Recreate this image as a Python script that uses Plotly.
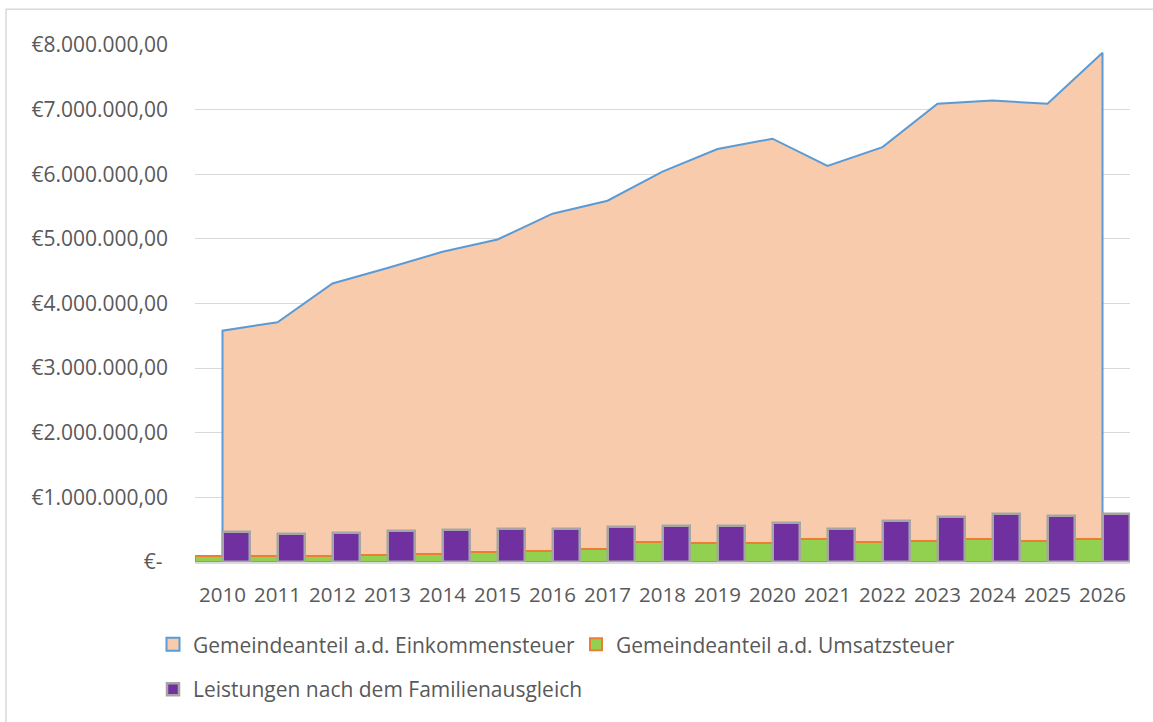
import plotly.graph_objects as go

years = [str(y) for y in range(2010, 2027)]
einkommensteuer = [3580000, 3710000, 4310000, 4550000, 4800000, 4990000, 5390000, 5590000,
                   6040000, 6390000, 6550000, 6130000, 6420000, 7090000, 7140000, 7090000, 7880000]
umsatzsteuer = [90000, 90000, 100000, 110000, 120000, 150000, 170000, 205000,
                310000, 300000, 300000, 350000, 310000, 330000, 350000, 330000, 355000]
familienausgleich = [470000, 430000, 450000, 480000, 490000, 510000, 515000, 540000,
                     560000, 560000, 610000, 505000, 640000, 700000, 750000, 715000, 745000]
tick_vals = [0, 1000000, 2000000, 3000000, 4000000, 5000000, 6000000, 7000000, 8000000]
tick_text = ["€- ", "€1.000.000,00", "€2.000.000,00", "€3.000.000,00", "€4.000.000,00",
             "€5.000.000,00", "€6.000.000,00", "€7.000.000,00", "€8.000.000,00"]
names = ["Gemeindeanteil a.d. Einkommensteuer", "Gemeindeanteil a.d. Umsatzsteuer",
         "Leistungen nach dem Familienausgleich"]

PEACH, BLUE = "#F8CBAD", "#5B9BD5"
GREEN, ORANGE = "#92D050", "#ED7D31"
PURPLE, GREY = "#7030A0", "#A5A5A5"
FONT = "Open Sans"
TXT = "#595959"

W, H = 1153, 722
OFF = 0  # body margin removed via post_script
PL, PR, PT, PB = 195, 1130, 45, 564
ML = PL - OFF
MT = PT - OFF
MR = (W + OFF) - PR
MB = (H + OFF) - PB
PW, PH = PR - PL, PB - PT

fig = go.Figure()

fig.add_trace(go.Scatter(
    x=[years[0]] + years + [years[-1]],
    y=[0] + einkommensteuer + [0],
    mode="lines", fill="toself", fillcolor=PEACH,
    line=dict(color=BLUE, width=2), showlegend=False, hoverinfo="skip",
    xaxis="x", yaxis="y"))

fig.add_trace(go.Scatter(
    x=[None], y=[None], mode="markers", name=names[0],
    marker=dict(symbol="square", size=13, color=PEACH, line=dict(color=BLUE, width=2)),
    legend="legend", legendrank=1, xaxis="x", yaxis="y"))

fig.add_trace(go.Bar(
    x=years, y=umsatzsteuer, name=names[1],
    marker=dict(color=GREEN, line=dict(color=ORANGE, width=2)),
    legend="legend", legendrank=2, xaxis="x2", yaxis="y2"))

fig.add_trace(go.Bar(
    x=years, y=familienausgleich, name=names[2],
    marker=dict(color=PURPLE, line=dict(color=GREY, width=2.5)),
    legend="legend2", legendrank=3, xaxis="x2", yaxis="y2"))

xr = [-0.5, len(years) - 0.5]
yr = [0, 8000000]

def px_x(p):
    return (p - PL) / PW

def px_y(p):
    return (PB - p) / PH

fig.update_layout(
    width=W, height=H,
    margin=dict(l=ML, r=MR, t=MT, b=MB),
    paper_bgcolor="white", plot_bgcolor="white",
    font=dict(family=FONT, size=21, color=TXT),
    barmode="group", bargap=0, bargroupgap=0,
    xaxis=dict(type="category", range=xr, showgrid=False, showline=True,
               linecolor="#D9D9D9", linewidth=1.5, ticks="", zeroline=False,
               tickfont=dict(size=20.5, color=TXT), ticklabelstandoff=14),
    yaxis=dict(range=yr, tickvals=tick_vals, ticktext=tick_text, showgrid=True,
               gridcolor="#D9D9D9", gridwidth=1.3, zeroline=False, showline=False,
               ticks="", tickfont=dict(size=21, color=TXT), ticklabelstandoff=26),
    xaxis2=dict(type="category", range=xr, overlaying="x", visible=False),
    yaxis2=dict(range=yr, overlaying="y", visible=False),
    legend=dict(orientation="h", x=px_x(153), xanchor="left", y=px_y(647), yanchor="middle",
                font=dict(size=21, color=TXT), entrywidth=378, entrywidthmode="pixels",
                bgcolor="rgba(0,0,0,0)", itemclick=False),
    legend2=dict(orientation="h", x=px_x(153), xanchor="left", y=px_y(692), yanchor="middle",
                 font=dict(size=21, color=TXT), bgcolor="rgba(0,0,0,0)", itemclick=False),
    shapes=[dict(type="rect", xref="paper", yref="paper",
                 x0=px_x(6), x1=px_x(1175), y0=px_y(745), y1=px_y(9),
                 line=dict(color="#D9D9D9", width=1.5), fillcolor="rgba(0,0,0,0)",
                 layer="below")],
)

fig.write_html("out.html", config={"displayModeBar": False},
               post_script="document.body.style.margin='0px';document.body.style.overflow='hidden';")
